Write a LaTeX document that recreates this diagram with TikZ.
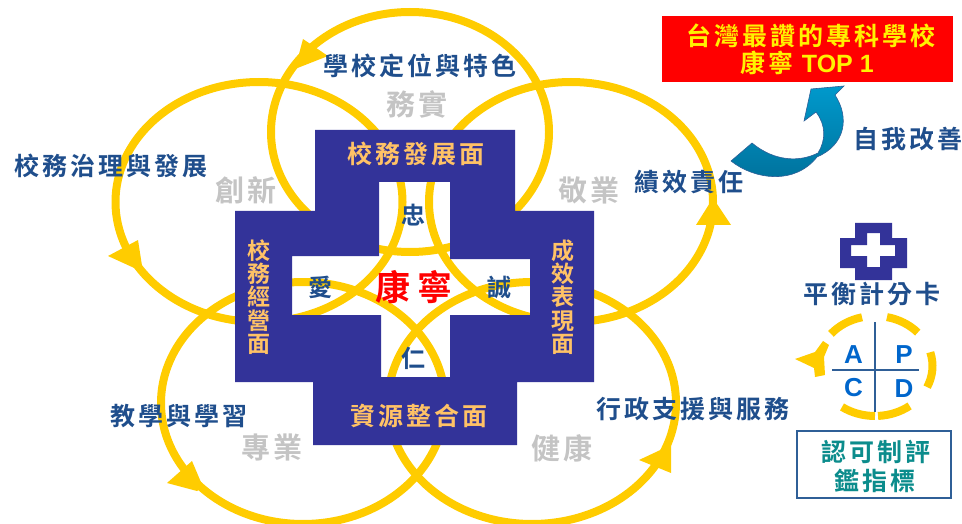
\documentclass[tikz,border=0pt]{standalone}
\usepackage{fontspec}
\newfontfamily\cjk[LetterSpace=12]{Noto Sans CJK TC Bold}
\newfontfamily\cjkgray[LetterSpace=10]{Noto Sans CJK TC Bold}
\newfontfamily\cjktight{Noto Sans CJK TC Bold}
\newfontfamily\latinbold{Liberation Sans Bold}
\setmainfont{Liberation Sans}
\definecolor{ringc}{HTML}{FFCC00}
\definecolor{crossc}{HTML}{333399}
\definecolor{goldtxt}{HTML}{FFC266}
\definecolor{navytxt}{HTML}{1F4E8C}
\definecolor{graytxt}{HTML}{C4C4C4}
\definecolor{tealtxt}{HTML}{0B8C8C}
\definecolor{pdcac}{HTML}{0066CC}
\definecolor{linec}{HTML}{2F5F97}
\definecolor{arrowtop}{HTML}{0099CC}
\definecolor{arrowbot}{HTML}{00709A}
\tikzset{
  x=1pt,y=-1pt,
  ring/.style={draw=ringc,line width=8pt},
  head/.style={fill=ringc,draw=none},
  cross/.style={fill=crossc,even odd rule,draw=none},
  navy/.style={text=navytxt,font=\cjk\fontsize{25}{27}\selectfont,inner sep=0pt},
  virtue/.style={text=navytxt,font=\cjktight\fontsize{24}{26}\selectfont,inner sep=0pt},
  gold/.style={text=goldtxt,font=\cjk\fontsize{25}{27}\selectfont,inner sep=0pt},
  grayl/.style={text=graytxt,font=\cjkgray\fontsize{29}{31}\selectfont,inner sep=0pt},
  vert/.style={text=goldtxt,font=\cjktight\fontsize{23}{23.4}\selectfont,align=center,inner sep=0pt},
  pdca/.style={text=pdcac,font=\latinbold\fontsize{26}{28}\selectfont,inner sep=0pt},
  pdcaring/.style={draw=ringc,line width=8pt},
  yel/.style={text=yellow,font=\cjk\fontsize{25}{27}\selectfont,inner sep=0pt},
  teal/.style={text=tealtxt,font=\cjk\fontsize{25}{27}\selectfont,inner sep=0pt},
}
\begin{document}
\begin{tikzpicture}
\useasboundingbox (0,0) rectangle (962,524);
% rings
\begin{scope}
\clip (0,0) rectangle (962,524);
\draw[ring] (410,132) ellipse [x radius=139,y radius=120];
\draw[ring] (259,202) ellipse [x radius=143.5,y radius=120];
\draw[ring] (571,202) ellipse [x radius=142,y radius=120];
\draw[ring] (303,403) ellipse [x radius=142,y radius=121];
\draw[ring] (532,403) ellipse [x radius=144,y radius=121];
\end{scope}
% ring arrowheads
\fill[head] (328,56) -- (295,69) -- (303,39) -- cycle;
\fill[head] (108,256) -- (138,240) -- (143,272) -- cycle;
\fill[head] (713,198) -- (731,225) -- (696,225) -- cycle;
\fill[head] (671,445) -- (671,473) -- (639,460) -- cycle;
\fill[head] (167,483) -- (192,461) -- (203,487) -- (197,491) -- cycle;
% cross
\path[cross] (315,130) -- (515,130) -- (515,211) -- (594,211) -- (594,382) -- (517,382) -- (517,445) -- (313,445) -- (313,382) -- (235,382) -- (235,211) -- (315,211) -- cycle
 (379,182) -- (450,182) -- (450,259) -- (530,259) -- (530,315) -- (450,315) -- (450,377) -- (381,377) -- (381,315) -- (292,315) -- (292,256) -- (379,256) -- cycle;
% cross labels
\node[gold] (t1) at (416,154) {校務發展面};
\node[gold] (t2) at (419,416) {資源整合面};
\node[vert] (t3) at (259,297) {校\\務\\經\\營\\面};
\node[vert] (t4) at (563,297) {成\\效\\表\\現\\面};
\node[virtue] (z) at (413.5,215) {忠};
\node[virtue] (a) at (320,287) {愛};
\node[virtue] (c) at (499,287) {誠};
\node[virtue] (r) at (413,358) {仁};
\node[text=red,font=\cjktight\fontsize{35}{37}\selectfont,inner sep=0pt] (k) at (414,287) {康\hspace{8pt}寧};
% ring labels
\node[navy] (l1) at (420,66) {學校定位與特色};
\node[navy] (l2) at (111.5,166) {校務治理與發展};
\node[navy] (l3) at (689,182) {績效責任};
\node[navy] (l4) at (179,416) {教學與學習};
\node[navy] (l5) at (693,409) {行政支援與服務};
\node[grayl] (g1) at (417,104) {務實};
\node[grayl] (g2) at (246,190) {創新};
\node[grayl] (g3) at (589,190) {敬業};
\node[grayl] (g4) at (272,447) {專業};
\node[grayl] (g5) at (562,448) {健康};
% top box
\node[fill=red,minimum width=291pt,minimum height=66pt,inner sep=0pt] (topbox) at (807.5,49) {};
\node[yel] (tb1) at (811,36) {台灣最讚的專科學校};
\node[yel] (tb2) at (807,63) {康寧 {\latinbold\fontsize{25}{27}\selectfont TOP 1}};
% curved arrow
\shade[top color=arrowtop,bottom color=arrowbot,draw=linec,line width=.6pt]
 (731,161) .. controls (755,180) and (795,185) .. (817,157)
 .. controls (845,145) and (850,118) .. (835,95)
 -- (844,86) -- (811,89) -- (804,121) -- (816,112)
 .. controls (826,125) and (826,140) .. (818,153)
 .. controls (800,162) and (775,162) .. (752,143) -- cycle;
\node[navy] (self) at (908,139) {自我改善};
% mini cross
\path[cross] (855,223) -- (892,223) -- (892,238) -- (907,238) -- (907,268) -- (892,268) -- (892,280) -- (855,280) -- (855,268) -- (840,268) -- (840,238) -- (855,238) -- cycle
 (867,233) -- (880,233) -- (880,245) -- (895,245) -- (895,256) -- (880,256) -- (880,267) -- (867,267) -- (867,256) -- (851,256) -- (851,245) -- (867,245) -- cycle;
\node[navy] (bsc) at (871.5,294) {平衡計分卡};
% PDCA
\draw[pdcaring] (875,366) ++(90:57.5 and 50) arc [start angle=90,end angle=125,x radius=57.5,y radius=50];
\draw[pdcaring] (875,366) ++(87:57.5 and 50) arc [start angle=87,end angle=53,x radius=57.5,y radius=50];
\draw[pdcaring] (875,366) ++(25:57.5 and 50) arc [start angle=25,end angle=-16,x radius=57.5,y radius=50];
\draw[pdcaring] (875,366) ++(-42:57.5 and 50) arc [start angle=-42,end angle=-78,x radius=57.5,y radius=50];
\draw[pdcaring] (875,366) ++(-103:57.5 and 50) arc [start angle=-103,end angle=-140,x radius=57.5,y radius=50];
\fill[head] (823,341) -- (829,345) -- (824,357) -- (825,375) -- (815,377) -- (814,368) -- (795,359) -- (815,352) -- cycle;
\draw[linec,line width=1.2pt] (875,322) coordinate (vt) -- (875,412) coordinate (vb);
\draw[linec,line width=1.2pt] (832,370) coordinate (hl) -- (919,370) coordinate (hr);
\node[pdca] (pa) at (853.5,354.5) {A};
\node[pdca] (pp) at (904,354.5) {P};
\node[pdca] (pc) at (853.5,388) {C};
\node[pdca] (pd) at (904,388.5) {D};
% bottom box
\node[draw=linec,line width=1.5pt,fill=white,minimum width=154pt,minimum height=67pt,inner sep=0pt] (acc) at (874,464.5) {};
\node[teal] (acc1) at (876,452) {認可制評};
\node[teal] (acc2) at (875,481) {鑑指標};
\end{tikzpicture}
\end{document}
